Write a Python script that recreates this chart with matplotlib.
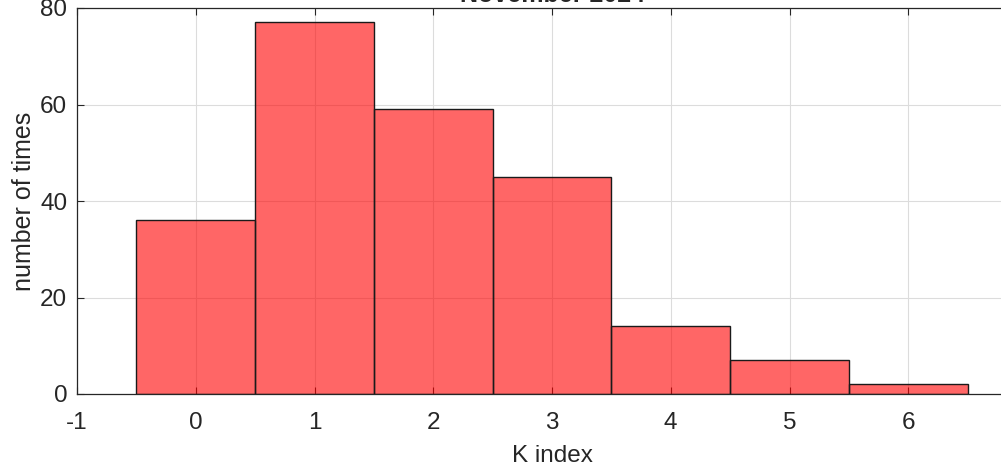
import numpy as np
import matplotlib.pyplot as plt

plt.rcParams['font.family'] = ['Liberation Sans', 'DejaVu Sans']
plt.rcParams['axes.unicode_minus'] = False

# K index histogram counts
k_values = [0, 1, 2, 3, 4, 5, 6]
counts = [36, 77, 59, 45, 14, 7, 2]
xticks = [-1, 0, 1, 2, 3, 4, 5, 6]
yticks = [0, 20, 40, 60, 80]

fig = plt.figure(figsize=(10.01, 4.71), dpi=100)
ax = fig.add_axes([77/1001, 77/471, 950/1001, 386/471])

ax.bar(k_values, counts, width=1.0, color=(1, 0, 0), alpha=0.6,
       edgecolor='none', zorder=2)
ax.bar(k_values, counts, width=1.0, facecolor='none', edgecolor='#1a1a1a',
       linewidth=1.0, zorder=3)

ax.set_xlim(-1, 7)
ax.set_ylim(0, 80)
ax.set_xticks(xticks)
ax.set_yticks(yticks)
ax.grid(True, color='#dcdcdc', linewidth=0.8, zorder=0)
ax.set_axisbelow(True)
ax.tick_params(direction='in', top=True, right=True, length=5,
               labelsize=17.5, colors='#262626')
ax.tick_params(axis='x', pad=13)
ax.tick_params(axis='y', pad=7)
for s in ax.spines.values():
    s.set_color('#262626')
    s.set_linewidth(0.9)

ax.set_xlabel('K index', fontsize=17.5, color='#262626', labelpad=8)
ax.set_ylabel('number of times', fontsize=18, color='#262626', labelpad=3)
ax.set_title('November 2024', fontsize=18, fontweight='bold',
             color='#262626', pad=4)

fig.savefig('out.png', dpi=100)
